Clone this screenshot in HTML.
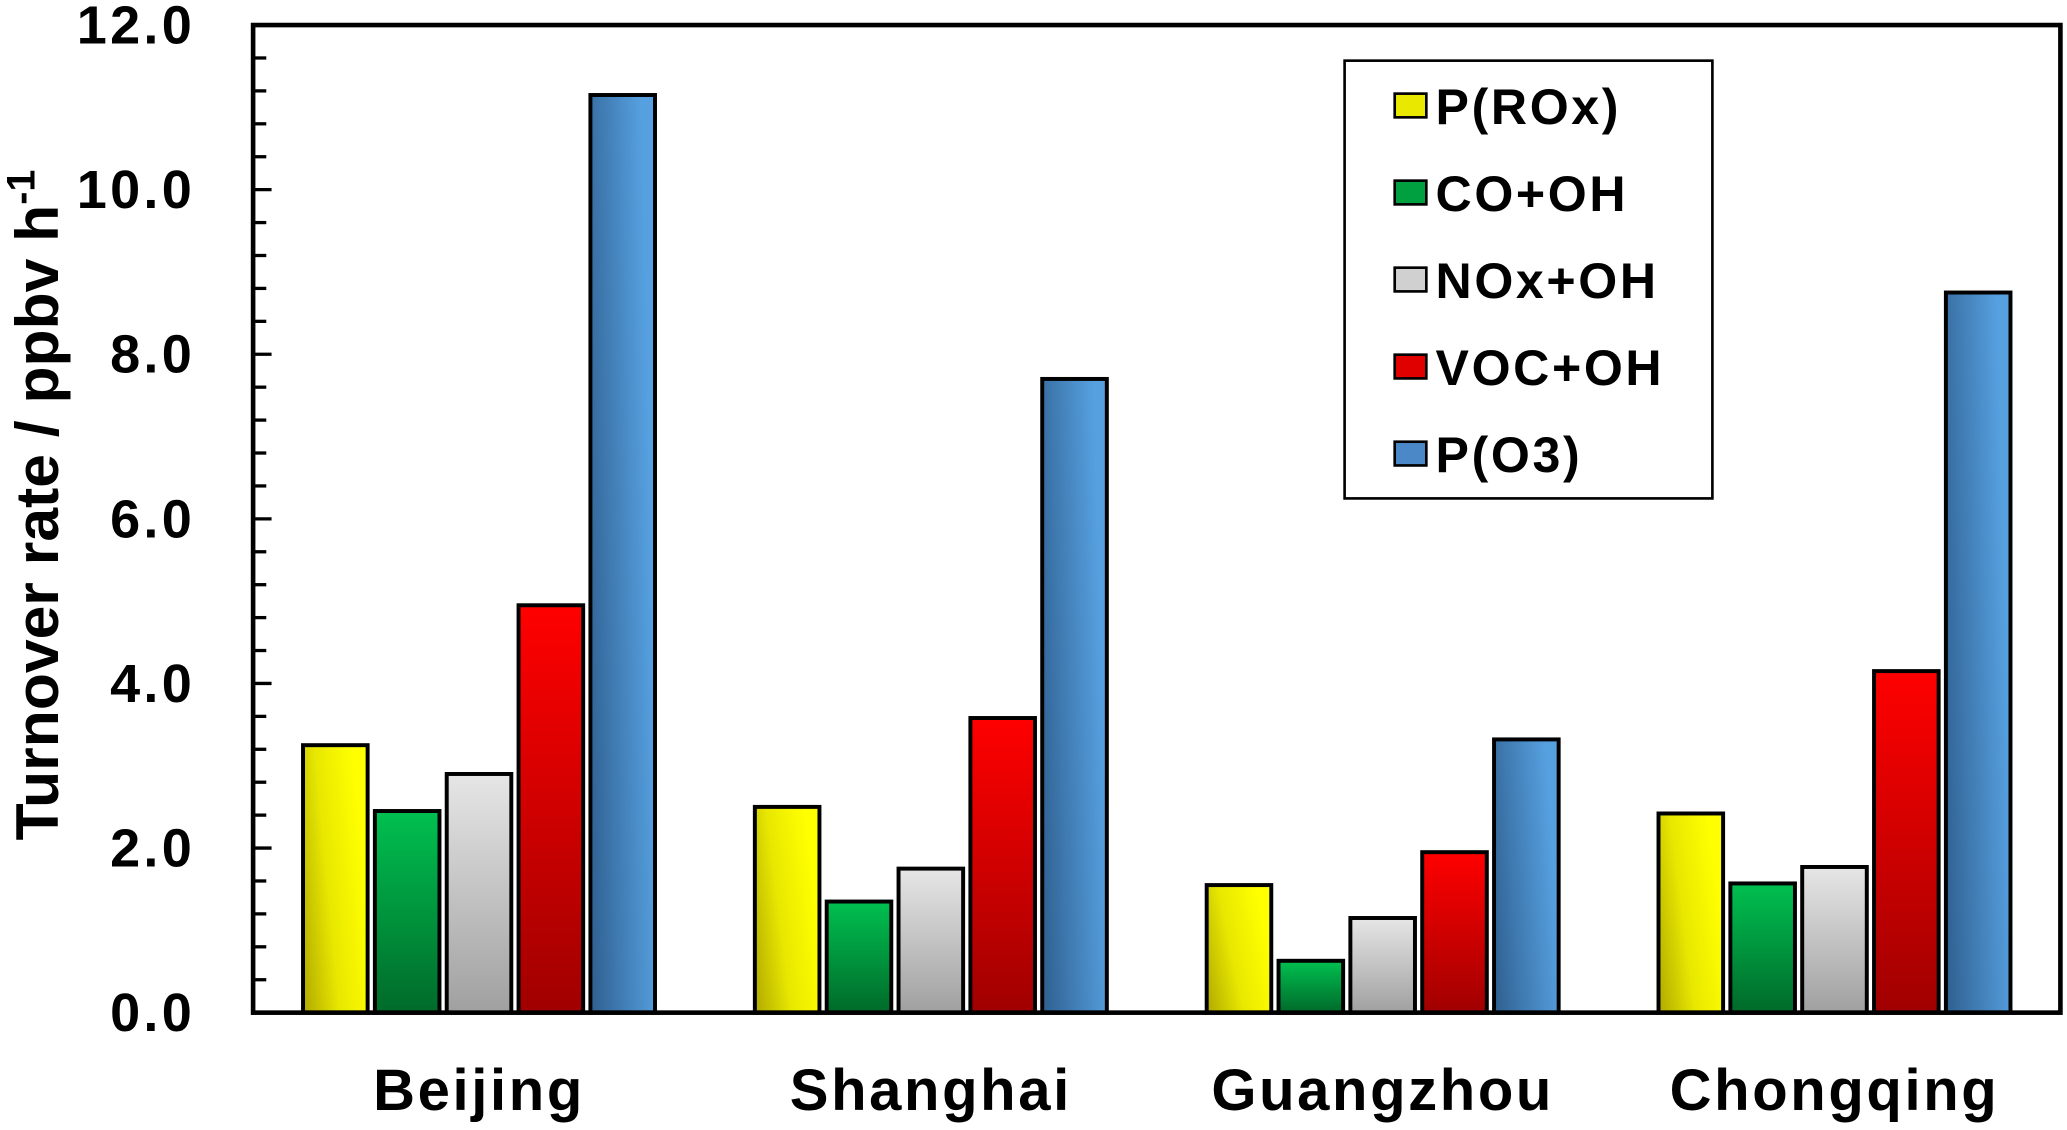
<!DOCTYPE html>
<html><head><meta charset="utf-8"><style>
html,body{margin:0;padding:0;background:#fff;}
svg{display:block;font-family:"Liberation Sans",Arial,sans-serif;}
</style></head><body>
<svg id="chart" width="2067" height="1130" viewBox="0 0 1568 857" preserveAspectRatio="none" xmlns="http://www.w3.org/2000/svg">
<defs>
<linearGradient id="gY" x1="0" y1="1" x2="1" y2="0.6"><stop offset="0" stop-color="#b0a800"/><stop offset="0.5" stop-color="#e8e800"/><stop offset="1" stop-color="#ffff00"/></linearGradient>
<linearGradient id="gG" x1="0" y1="0" x2="0" y2="1"><stop offset="0" stop-color="#00c050"/><stop offset="1" stop-color="#006a2a"/></linearGradient>
<linearGradient id="gS" x1="0" y1="0" x2="0" y2="1"><stop offset="0" stop-color="#e6e6e6"/><stop offset="1" stop-color="#a0a0a0"/></linearGradient>
<linearGradient id="gR" x1="0" y1="0" x2="0" y2="1"><stop offset="0" stop-color="#ff0000"/><stop offset="1" stop-color="#a00000"/></linearGradient>
<linearGradient id="gB" x1="0" y1="1" x2="1" y2="0.7"><stop offset="0" stop-color="#2f5f8f"/><stop offset="1" stop-color="#56a0e0"/></linearGradient>
</defs>
<g id="bars"></g>
<g id="axes"></g>
<g id="legend"></g>
</svg>
<script>
const categories = ["Beijing","Shanghai","Guangzhou","Chongqing"];
const seriesNames = ["P(ROx)","CO+OH","NOx+OH","VOC+OH","P(O3)"];
const pROx = [3.25, 2.5, 1.55, 2.42];
const coOH = [2.45, 1.35, 0.63, 1.57];
const noxOH = [2.9, 1.75, 1.15, 1.77];
const vocOH = [4.95, 3.58, 1.95, 4.15];
const pO3 = [11.15, 7.7, 3.32, 8.75];
const yTicks = ["0.0","2.0","4.0","6.0","8.0","10.0","12.0"];

const NS = "http://www.w3.org/2000/svg";
const L = 192, R = 1563, T = 19, B = 768, YMAX = 12;
const series = [pROx, coOH, noxOH, vocOH, pO3];
const fills = ["url(#gY)","url(#gG)","url(#gS)","url(#gR)","url(#gB)"];
const swFills = ["#e8e800","#00a040","#d0d0d0","#e00000","#4a88c8"];
const names = ["bar-p-rox","bar-co-oh","bar-nox-oh","bar-voc-oh","bar-p-o3"];
function y(v){ return B - v / YMAX * (B - T); }
const groupW = (R - L) / categories.length;
function xc(i){ return L + groupW * (i + 0.5); }
const barStep = 54.5, barW = 49;
function mk(tag, attrs, parent){
  const e = document.createElementNS(NS, tag);
  for (const k in attrs) e.setAttribute(k, attrs[k]);
  parent.appendChild(e); return e;
}
const gb = document.getElementById('bars');
categories.forEach((c, i) => {
  series.forEach((s, j) => {
    const x = xc(i) + (j - 2) * barStep - barW / 2;
    const r = mk('rect', {x: x, y: y(s[i]), width: barW, height: B - y(s[i]), fill: fills[j], stroke: '#000', 'stroke-width': 3}, gb);
    
    
  });
});
const ga = document.getElementById('axes');
const frame = mk('rect', {x: L, y: T, width: R - L, height: B - T, fill: 'none', stroke: '#000', 'stroke-width': 3.5}, ga);


for (let k = 0; k <= 30; k++) {
  const v = k * 0.4;
  const major = k % 5 === 0;
  const t = mk('line', {x1: L, x2: L + (major ? 14 : 10), y1: y(v), y2: y(v), stroke: '#000', 'stroke-width': 2.5}, ga);
  
  
}
yTicks.forEach((lbl, k) => {
  const t = mk('text', {x: 148, y: y(k * 2) + 14, 'text-anchor': 'end', 'font-size': 41, 'font-weight': 'bold', 'letter-spacing': 2.5}, ga);
  t.textContent = lbl;
  
  
});
categories.forEach((c, i) => {
  const t = mk('text', {x: xc(i), y: 842, 'text-anchor': 'middle', 'font-size': 44, 'font-weight': 'bold', 'letter-spacing': 2}, ga);
  t.textContent = c;
  
  
});
const yt = mk('text', {x: 0, y: 0, transform: 'translate(44,383) rotate(-90)', 'text-anchor': 'middle', 'font-size': 46, 'font-weight': 'bold'}, ga);


yt.appendChild(document.createTextNode('Turnover rate / ppbv h'));
const sup = mk('tspan', {dy: -18, 'font-size': 30}, yt);
sup.textContent = '-1';

const gl = document.getElementById('legend');
const lb = mk('rect', {x: 1020, y: 46, width: 279, height: 332, fill: '#fff', stroke: '#000', 'stroke-width': 2}, gl);


seriesNames.forEach((n, j) => {
  const cy = 80 + j * 66;
  const s = mk('rect', {x: 1058, y: cy - 9, width: 24, height: 18, fill: swFills[j], stroke: '#000', 'stroke-width': 2}, gl);
  
  
  const t = mk('text', {x: 1089, y: cy + 14, 'font-size': 38, 'font-weight': 'bold', 'letter-spacing': 2}, gl);
  t.textContent = n;
  
  
});
</script>
</body></html>
